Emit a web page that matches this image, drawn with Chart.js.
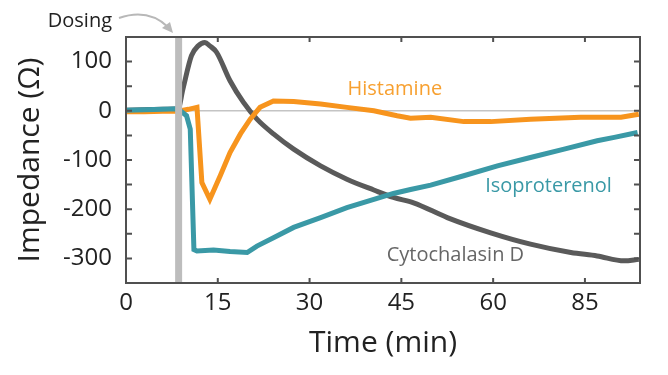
<!DOCTYPE html>
<html>
<head>
<meta charset="utf-8">
<script src="https://cdn.jsdelivr.net/npm/chart.js@4/dist/chart.umd.min.js"></script>
<style>
  html, body { margin: 0; padding: 0; background: #fff; }
  #wrap { width: 668px; height: 375px; }
</style>
</head>
<body>
<div id="wrap"><canvas id="c" width="668" height="375"></canvas></div>
<script>
// ---- Data ----
const histamineTime  = [0, 3, 6, 8.5, 10.2, 11.6, 12.4, 13.7, 15.4, 17, 18.7, 20.3, 21.9, 24.1, 27.4, 31.8, 36.1, 40.5, 44.3, 46.5, 49.8, 55.2, 59.6, 66.1, 74.3, 80.9, 83.8];
const histamineValue = [-2, -2, -1, -1, 3, 7, -146, -180, -132, -85, -47, -17, 7, 20, 19, 14, 7, 0, -10, -15, -13, -22, -22, -17, -13, -13, -7];

const isoTime  = [0, 3, 6, 8.5, 9.9, 10.5, 11.1, 11.6, 14.3, 17, 19.8, 21.4, 24.1, 27.4, 31.8, 36.1, 40.5, 43.7, 46.5, 49.8, 55.2, 60.7, 66.1, 71.6, 77, 79.8, 83.6];
const isoValue = [1, 2, 3, 4, -10, -37, -282, -285, -283, -286, -288, -275, -258, -237, -217, -197, -180, -168, -160, -151, -132, -112, -95, -78, -61, -54, -44];

const cytoTime  = [0, 3, 6, 8.5, 9.3, 10.7, 11.8, 12.9, 13.7, 14.8, 17, 19.2, 21.4, 24.1, 27.4, 31.8, 36.1, 40.5, 43.7, 47, 52.5, 59.6, 66.1, 72.7, 77, 81.4, 83.8];
const cytoValue = [1, 2, 3, 4, 44, 112, 132, 139, 132, 119, 61, 17, -17, -47, -78, -112, -139, -161, -176, -187, -217, -248, -271, -288, -295, -305, -302];

const xTickValues = [0, 15, 30, 45, 60, 75];
const xTickLabels = ['0', '15', '30', '45', '60', '85'];
const yLabeledTicks = [100, 0, -100, -200, -300];

const dosingTime = 8.6;
const seriesNames = ['Histamine', 'Isoproterenol', 'Cytochalasin D'];

// ---- Styles ----
const FONT = '"Open Sans", "DejaVu Sans", sans-serif';
const C_HIST = '#F7941D';
const C_ISO  = '#3A99A6';
const C_CYTO = '#5a5a5a';
const C_AXIS = '#505050';

function pts(t, v) { return t.map((x, i) => ({ x: x, y: v[i] })); }

const decorPlugin = {
  id: 'decor',
  afterDatasetsDraw(chart) {
    const { ctx, chartArea: a, scales: { x, y } } = chart;
    ctx.save();
    // dosing bar
    const bx = x.getPixelForValue(dosingTime);
    ctx.fillStyle = '#bdbdbd';
    ctx.fillRect(bx - 3.5, a.top, 7, a.bottom - a.top);

    // annotations
    ctx.font = '20px ' + FONT;
    ctx.textBaseline = 'middle';
    ctx.textAlign = 'left';
    ctx.fillStyle = '#F7A030';
    ctx.fillText(seriesNames[0], x.getPixelForValue(36.2), y.getPixelForValue(44));
    ctx.fillStyle = C_ISO;
    ctx.fillText(seriesNames[1], x.getPixelForValue(58.7), y.getPixelForValue(-154));
    ctx.fillStyle = '#666';
    ctx.fillText(seriesNames[2], x.getPixelForValue(42.6), y.getPixelForValue(-294));
    ctx.restore();
  },
  afterDraw(chart) {
    const { ctx, chartArea: a, scales: { x, y } } = chart;
    ctx.save();
    // box
    ctx.strokeStyle = C_AXIS;
    ctx.lineWidth = 2;
    ctx.strokeRect(a.left, a.top, a.right - a.left, a.bottom - a.top);
    // inward ticks
    ctx.lineWidth = 2;
    ctx.beginPath();
    y.ticks.forEach(t => {
      const py = y.getPixelForValue(t.value);
      ctx.moveTo(a.left, py); ctx.lineTo(a.left + 6, py);
      ctx.moveTo(a.right, py); ctx.lineTo(a.right - 6, py);
    });
    x.ticks.forEach(t => {
      const px = x.getPixelForValue(t.value);
      ctx.moveTo(px, a.bottom); ctx.lineTo(px, a.bottom - 5);
      ctx.moveTo(px, a.top); ctx.lineTo(px, a.top + 5);
    });
    ctx.stroke();

    // Dosing label + arrow
    ctx.font = '20px ' + FONT;
    ctx.fillStyle = '#222';
    ctx.textAlign = 'right';
    ctx.textBaseline = 'middle';
    ctx.fillText('Dosing', 112, 21);
    ctx.strokeStyle = '#b8b8b8';
    ctx.fillStyle = '#b8b8b8';
    ctx.lineWidth = 2;
    ctx.beginPath();
    ctx.moveTo(119, 18);
    ctx.quadraticCurveTo(148, 8, 168, 27);
    ctx.stroke();
    ctx.beginPath();
    ctx.moveTo(173, 33);
    ctx.lineTo(162, 28);
    ctx.lineTo(170, 22);
    ctx.closePath();
    ctx.fill();
    ctx.restore();
  }
};

new Chart(document.getElementById('c'), {
  type: 'line',
  data: {
    datasets: [
      { label: seriesNames[1], order: 1, data: pts(isoTime, isoValue), borderColor: C_ISO, borderWidth: 5, pointRadius: 0, tension: 0 },
      { label: seriesNames[0], order: 2, data: pts(histamineTime, histamineValue), borderColor: C_HIST, borderWidth: 5, pointRadius: 0, tension: 0 },
      { label: seriesNames[2], order: 3, data: pts(cytoTime, cytoValue), borderColor: C_CYTO, borderWidth: 5, pointRadius: 0, cubicInterpolationMode: 'monotone' }
    ]
  },
  options: {
    responsive: false,
    animation: false,
    layout: { padding: { top: 37, right: 28, left: 0, bottom: 0 } },
    plugins: { legend: { display: false }, tooltip: { enabled: false } },
    scales: {
      x: {
        type: 'linear', min: 0, max: 84,
        afterBuildTicks: s => { s.ticks = xTickValues.map(v => ({ value: v })); },
        ticks: {
          autoSkip: false, maxRotation: 0, padding: 6,
          color: '#222', font: { family: FONT, size: 24 },
          callback: v => { const i = xTickValues.indexOf(v); return i >= 0 ? xTickLabels[i] : ''; }
        },
        grid: { drawOnChartArea: false, drawTicks: false },
        border: { display: false },
        title: { display: true, text: 'Time (min)', color: '#222', font: { family: FONT, size: 30 }, padding: { top: 0, bottom: 14 } },
        afterFit: s => { s.height = 375 - 283; }
      },
      y: {
        type: 'linear', min: -350, max: 150,
        ticks: {
          stepSize: 50, autoSkip: false, padding: 14, color: '#222', font: { family: FONT, size: 24 },
          callback: v => yLabeledTicks.includes(v) ? String(v) : ''
        },
        grid: {
          drawTicks: false,
          color: c => (c.tick && c.tick.value === 0) ? '#c4c4c4' : 'rgba(0,0,0,0)',
          lineWidth: 1.5
        },
        border: { display: false },
        title: { display: true, text: 'Impedance (Ω)', color: '#222', font: { family: FONT, size: 30 }, padding: { top: 12, bottom: 0 } },
        afterFit: s => { s.width = 126; }
      }
    }
  },
  plugins: [decorPlugin]
});
</script>
</body>
</html>
